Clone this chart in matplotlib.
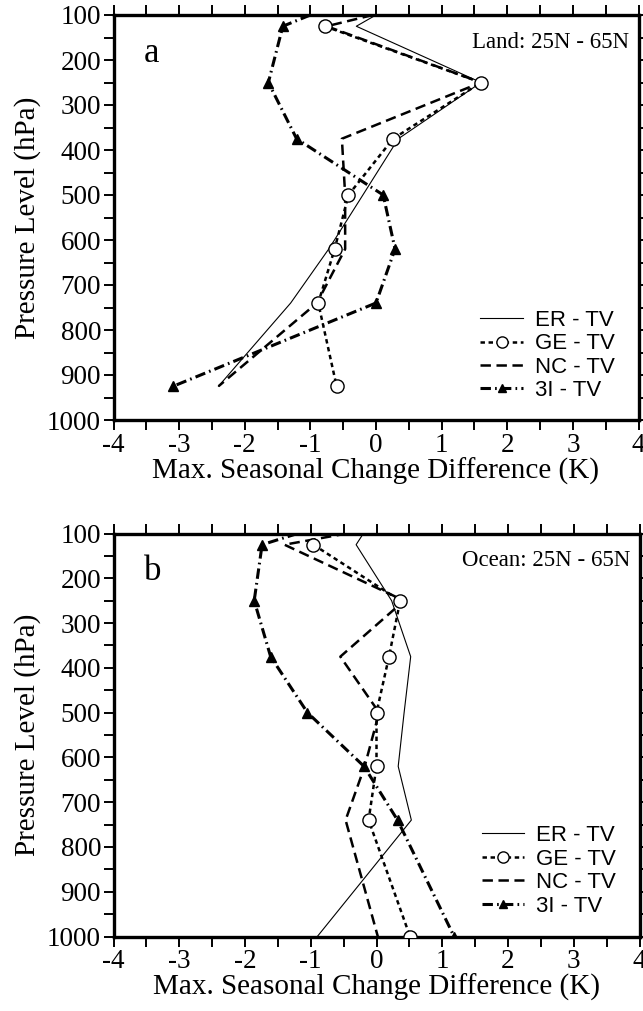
import matplotlib
matplotlib.use("Agg")
import matplotlib.pyplot as plt
from matplotlib.lines import Line2D
from matplotlib.ticker import MultipleLocator

plt.rcParams['lines.scale_dashes'] = False
SERIF = 'Liberation Serif'
SANS = 'Liberation Sans'

# ---------------- data (panel a: Land) ----------------
land_er_p = [100, 125, 250, 375, 500, 620, 740, 925]
land_er_k = [0.0, -0.30, 1.60, 0.34, -0.20, -0.72, -1.30, -2.40]
land_ge_p = [125, 250, 375, 500, 620, 740, 925]
land_ge_k = [-0.78, 1.60, 0.26, -0.42, -0.63, -0.88, -0.60]
land_nc_p = [100, 125, 250, 375, 500, 620, 740, 925]
land_nc_k = [-0.05, -0.75, 1.60, -0.52, -0.47, -0.47, -0.90, -2.40]
land_3i_p = [100, 125, 250, 375, 500, 620, 740, 925]
land_3i_k = [-1.00, -1.42, -1.64, -1.21, 0.11, 0.29, 0.00, -3.09]

# ---------------- data (panel b: Ocean) ----------------
ocean_er_p = [100, 125, 250, 375, 500, 620, 740, 1000]
ocean_er_k = [-0.20, -0.31, 0.23, 0.52, 0.42, 0.33, 0.53, -0.90]
ocean_ge_p = [125, 250, 375, 500, 620, 740, 1000]
ocean_ge_k = [-0.96, 0.36, 0.19, 0.00, 0.00, -0.12, 0.51]
ocean_nc_p = [100, 125, 250, 375, 500, 620, 740, 1000]
ocean_nc_k = [-0.45, -1.40, 0.42, -0.55, 0.04, -0.18, -0.47, 0.02]
ocean_3i_p = [100, 125, 250, 375, 500, 620, 740, 1000]
ocean_3i_k = [-1.20, -1.74, -1.86, -1.61, -1.05, -0.19, 0.32, 1.18]

labels = ['ER - TV', 'GE - TV', 'NC - TV', '3I - TV']
x_ticks = [-4, -3, -2, -1, 0, 1, 2, 3, 4]
y_ticks = [100, 200, 300, 400, 500, 600, 700, 800, 900, 1000]

fig = plt.figure(figsize=(6.43, 10.11), dpi=100)
W, H = 643, 1011


def axes_px(l, r, t, b):
    return fig.add_axes([l / W, 1 - b / H, (r - l) / W, (b - t) / H])


ax_a = axes_px(113.5, 638.5, 15, 420)
ax_b = axes_px(113.5, 639.5, 533.5, 936.5)

styles = dict(
    er=dict(color='black', lw=0.8, ls='-'),
    ge=dict(color='black', lw=1.8, dashes=(3.2, 2.6), marker='o', ms=9.5,
            mfc='white', mec='black', mew=1.0),
    nc=dict(color='black', lw=1.8, dashes=(7.5, 4.0)),
    i3=dict(color='black', lw=2.2, dashes=(7.5, 3.0, 1.2, 3.0), marker='^',
            ms=6.5, mfc='black', mec='black'),
)


def draw(ax, er, ge, nc, i3, letter, title, leg_anchor):
    ax.plot(er[1], er[0], **styles['er'], zorder=3)
    ax.plot(nc[1], nc[0], **styles['nc'], zorder=3)
    ax.plot(i3[1], i3[0], **styles['i3'], markevery=list(range(1, len(i3[0]))),
            zorder=4)
    ax.plot(ge[1], ge[0], **styles['ge'], zorder=5)
    ax.set_xlim(-4, 4)
    ax.set_ylim(1000, 100)
    ax.set_xticks(x_ticks)
    ax.set_yticks(y_ticks)
    ax.set_xticklabels([str(v) for v in x_ticks], family=SERIF, fontsize=19.5)
    ax.set_yticklabels([str(v) for v in y_ticks], family=SERIF, fontsize=19.5)
    ax.xaxis.set_minor_locator(MultipleLocator(0.5))
    ax.yaxis.set_minor_locator(MultipleLocator(50))
    ax.tick_params(which='both', direction='out', length=7, width=1.4,
                   top=True, right=True, pad=2)
    for s in ax.spines.values():
        s.set_linewidth(2.4)
    ax.set_xlabel('Max. Seasonal Change Difference (K)', family=SERIF,
                  fontsize=21, labelpad=0)
    ax.set_ylabel('Pressure Level (hPa)', family=SERIF, fontsize=21,
                  labelpad=4)
    ax.text(0.058, 0.905, letter, transform=ax.transAxes, family=SERIF,
            fontsize=25, va='center', ha='left')
    ax.text(0.982, 0.933, title, transform=ax.transAxes, family=SERIF,
            fontsize=16.5, va='center', ha='right')
    handles = [
        Line2D([], [], **styles['er']),
        Line2D([], [], **styles['ge']),
        Line2D([], [], **styles['nc']),
        Line2D([], [], **styles['i3']),
    ]
    ax.legend(handles, labels, loc='upper left', bbox_to_anchor=leg_anchor,
              frameon=False, prop={'family': SANS, 'size': 16},
              handlelength=1.9, handletextpad=0.55, labelspacing=0.11,
              borderpad=0, borderaxespad=0, markerscale=0.85)


draw(ax_a, (land_er_p, land_er_k), (land_ge_p, land_ge_k),
     (land_nc_p, land_nc_k), (land_3i_p, land_3i_k),
     'a', 'Land: 25N - 65N', (0.699, 0.272))
draw(ax_b, (ocean_er_p, ocean_er_k), (ocean_ge_p, ocean_ge_k),
     (ocean_nc_p, ocean_nc_k), (ocean_3i_p, ocean_3i_k),
     'b', 'Ocean: 25N - 65N', (0.700, 0.276))

fig.savefig('out.png', dpi=100)
